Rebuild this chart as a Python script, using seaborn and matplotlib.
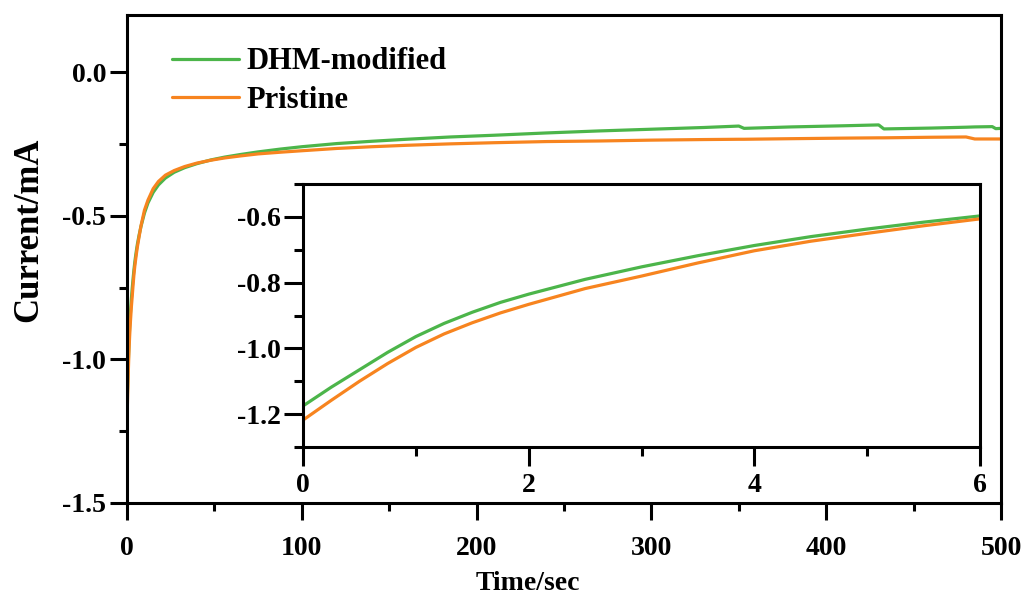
import numpy as np
import pandas as pd
import matplotlib
matplotlib.use("Agg")
import matplotlib.pyplot as plt
from matplotlib.ticker import MultipleLocator, FormatStrFormatter
import seaborn as sns

# Chronoamperometry: current (mA) vs time (s)
time_s = [0, 0.25, 0.5, 0.75, 1, 1.25, 1.5, 1.75, 2, 2.5, 3, 3.5, 4, 4.5,
          5, 5.5, 6,
          7, 8, 10, 12, 15, 18, 22, 27, 33, 40, 48, 56, 65, 75, 88,
          100, 120, 140, 160, 185, 210, 240, 270, 300, 330, 350, 353,
          380, 410, 430, 433, 460, 480, 485, 495, 497, 500]

dhm_modified = [-1.175, -1.118, -1.065, -1.012, -0.964, -0.924, -0.890,
                -0.860, -0.835, -0.790, -0.752, -0.718, -0.687, -0.660,
                -0.637, -0.616, -0.597,
                -0.565, -0.537, -0.490, -0.455, -0.418, -0.392, -0.368,
                -0.348, -0.332, -0.318, -0.305, -0.295, -0.286, -0.277,
                -0.267, -0.259, -0.248, -0.240, -0.233, -0.225, -0.219,
                -0.211, -0.204, -0.198, -0.192, -0.187, -0.195, -0.190,
                -0.186, -0.183, -0.197, -0.194, -0.191, -0.190, -0.189,
                -0.196, -0.195]

pristine = [-1.218, -1.158, -1.100, -1.046, -0.997, -0.956, -0.922,
            -0.892, -0.866, -0.818, -0.780, -0.740, -0.703, -0.674,
            -0.650, -0.627, -0.606,
            -0.570, -0.535, -0.480, -0.445, -0.405, -0.380, -0.358,
            -0.342, -0.328, -0.316, -0.306, -0.298, -0.291, -0.284,
            -0.278, -0.273, -0.265, -0.259, -0.254, -0.249, -0.245,
            -0.241, -0.239, -0.236, -0.234, -0.233, -0.233, -0.231,
            -0.229, -0.228, -0.228, -0.226, -0.225, -0.232, -0.232,
            -0.232, -0.232]

series_names = ["DHM-modified", "Pristine"]
series_colors = ["#4cb54a", "#f7841f"]

df = pd.concat([
    pd.DataFrame({"Time": time_s, "Current": dhm_modified, "Sample": series_names[0]}),
    pd.DataFrame({"Time": time_s, "Current": pristine, "Sample": series_names[1]}),
], ignore_index=True)

sns.set_theme(style="ticks")
plt.rcParams["font.family"] = ["Liberation Serif", "DejaVu Serif"]
plt.rcParams["font.weight"] = "bold"
plt.rcParams["axes.labelweight"] = "bold"
for key in ["text.color", "axes.labelcolor", "xtick.color", "ytick.color",
            "axes.edgecolor"]:
    plt.rcParams[key] = "black"

palette = dict(zip(series_names, series_colors))
TICK_SIZE = 20

fig = plt.figure(figsize=(10.29, 6.01), dpi=100)
ax = fig.add_axes([0.1234, 0.1631, 0.8494, 0.8120])

sns.lineplot(data=df, x="Time", y="Current", hue="Sample", palette=palette,
             hue_order=series_names, linewidth=2.3, ax=ax, estimator=None)

ax.set_xlim(0, 500)
ax.set_ylim(-1.5, 0.2)
ax.xaxis.set_major_locator(MultipleLocator(100))
ax.xaxis.set_minor_locator(MultipleLocator(50))
ax.yaxis.set_major_locator(MultipleLocator(0.5))
ax.yaxis.set_minor_locator(MultipleLocator(0.25))
ax.set_xlabel("Time/sec", fontsize=20, fontweight="bold")
ax.set_ylabel("Current/mA", fontsize=25, fontweight="bold")
ax.xaxis.set_label_coords(0.459, -0.14)
ax.yaxis.set_label_coords(-0.094, 0.56)


def style_axes(a, major_len, minor_len, xpad, ypad):
    for sp in a.spines.values():
        sp.set_visible(True)
        sp.set_linewidth(2.2)
        sp.set_color("black")
    a.tick_params(which="major", direction="out", length=major_len, width=2.2,
                  labelsize=TICK_SIZE, top=False, right=False, color="black",
                  labelcolor="black")
    a.tick_params(which="minor", direction="out", length=minor_len, width=2.2,
                  top=False, right=False, color="black")
    a.tick_params(axis="x", which="major", pad=xpad)
    a.tick_params(axis="y", which="major", pad=ypad)
    for lab in a.get_xticklabels() + a.get_yticklabels():
        lab.set_fontweight("bold")
    a.yaxis.set_major_formatter(FormatStrFormatter("%.1f"))


style_axes(ax, 12, 6, 12, 3)

leg = ax.legend(loc="upper left", bbox_to_anchor=(0.02, 0.99), frameon=False,
                handlelength=2.2, handletextpad=0.25, labelspacing=0.32,
                prop={"size": 22, "weight": "bold"})
for line in leg.get_lines():
    line.set_linewidth(2.3)

# Inset: first 6 seconds
axin = fig.add_axes([0.2945, 0.2562, 0.6579, 0.4376])
sns.lineplot(data=df, x="Time", y="Current", hue="Sample", palette=palette,
             hue_order=series_names, linewidth=2.3, ax=axin, estimator=None,
             legend=False)
axin.set_xlim(0, 6)
axin.set_ylim(-1.3, -0.5)
axin.xaxis.set_major_locator(MultipleLocator(2))
axin.xaxis.set_minor_locator(MultipleLocator(1))
axin.yaxis.set_major_locator(MultipleLocator(0.2))
axin.yaxis.set_minor_locator(MultipleLocator(0.1))
axin.set_xlabel("")
axin.set_ylabel("")
style_axes(axin, 14, 6.5, 5, 2)

fig.savefig("out.png", dpi=100)
